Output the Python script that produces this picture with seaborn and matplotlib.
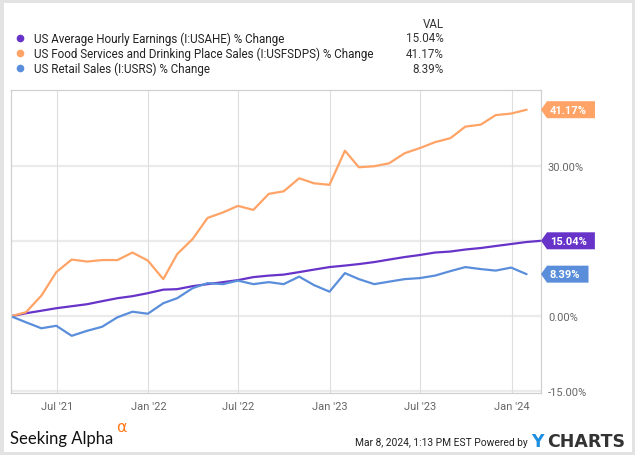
import matplotlib
matplotlib.use("Agg")
import pandas as pd
import matplotlib.pyplot as plt
import matplotlib.transforms as mtransforms
from matplotlib.patches import Polygon, Rectangle
from matplotlib.lines import Line2D
import seaborn as sns

# Monthly % change since Mar 2021
months = pd.date_range("2021-03-31", "2024-02-29", freq="ME")

earnings = [0.0, 0.6, 1.1, 1.6, 2.0, 2.4, 3.0, 3.6, 4.0, 4.6, 5.3, 5.4,
            6.0, 6.4, 6.8, 7.2, 7.8, 8.1, 8.3, 8.8, 9.3, 9.8, 10.1, 10.4,
            10.8, 11.3, 11.8, 12.2, 12.7, 12.9, 13.3, 13.6, 14.0, 14.4, 14.8, 15.04]
food = [0.0, 0.8, 4.1, 8.8, 11.3, 10.9, 11.2, 11.2, 12.7, 11.1, 7.4, 12.4,
        15.4, 19.6, 20.7, 22.0, 21.2, 24.4, 24.9, 27.5, 26.5, 26.2, 33.0, 29.7,
        29.9, 30.5, 32.5, 33.5, 34.7, 35.5, 37.8, 38.2, 40.1, 40.4, 41.17]
retail = [0.0, -1.2, -2.4, -1.9, -3.9, -2.9, -2.1, -0.2, 0.9, 0.5, 2.6, 3.6,
          5.6, 6.6, 6.4, 7.1, 6.4, 6.8, 6.4, 7.9, 6.2, 4.9, 8.6, 7.4,
          6.4, 6.9, 7.4, 7.6, 8.1, 9.0, 9.8, 9.4, 9.1, 9.7, 8.39]

names = ["US Average Hourly Earnings (I:USAHE) % Change",
         "US Food Services and Drinking Place Sales (I:USFSDPS) % Change",
         "US Retail Sales (I:USRS) % Change"]
colors = ["#6733c9", "#ffa366", "#5a8edb"]
values = [earnings, food, retail]

yticks = [-15, 0, 15, 30]
ylabels = ["-15.00%", "0.00%", "", "30.00%"]  # 15.00% sits under the purple tag
xticks = pd.to_datetime(["2021-07-01", "2022-01-01", "2022-07-01",
                         "2023-01-01", "2023-07-01", "2024-01-01"])
xlabels = ["Jul '21", "Jan '22", "Jul '22", "Jan '23", "Jul '23", "Jan '24"]

sns.set_style("white")
plt.rcParams["font.family"] = ["Roboto", "DejaVu Sans"]

fig = plt.figure(figsize=(6.35, 4.56), dpi=100)
ax = fig.add_axes([11 / 635, 1 - 394 / 456, 530 / 635, 303 / 456])

for name, vals, col in zip(names, values, colors):
    df = pd.DataFrame({"date": months[:len(vals)], "pct": vals})
    sns.lineplot(data=df, x="date", y="pct", color=col, linewidth=1.6, ax=ax)

ax.set_xlim(months[0], months[-1])
ax.set_ylim(-15.3, 45.1)
ax.set_xlabel("")
ax.set_ylabel("")

ax.set_xticks(xticks)
ax.set_xticklabels(xlabels)
ax.set_yticks(yticks)
ax.set_yticklabels(ylabels)
ax.yaxis.tick_right()
ax.tick_params(axis="both", length=0, labelsize=8, labelcolor="#666666")
ax.tick_params(axis="x", pad=6)
ax.tick_params(axis="y", pad=5)

ax.grid(False)
for t in yticks:
    ax.axhline(t, color="#ebebeb", linewidth=1.6, zorder=0)
for t in xticks:
    ax.axvline(t, color="#dedede", linewidth=0.8, zorder=0)
for s in ax.spines.values():
    s.set_color("#d0d0d0")
    s.set_linewidth(0.9)

# value tags on the right edge
trans = mtransforms.blended_transform_factory(ax.transAxes, ax.transData)
fig.canvas.draw()
for vals, col in zip(values, colors):
    last = vals[-1]
    off = mtransforms.ScaledTranslation(9 / 100, 0, fig.dpi_scale_trans)
    txt = ax.text(1, last, f"{last:.2f}%", transform=trans + off, ha="left",
                  va="center", color="white", fontsize=8, fontweight="bold",
                  zorder=6, clip_on=False)
    w = txt.get_window_extent(fig.canvas.get_renderer()).width / 100
    h = 8.5 / 100
    verts = [(0, 0), (0.06, h), (w + 0.17, h), (w + 0.17, -h), (0.06, -h)]
    anchor = mtransforms.ScaledTranslation(1, last, trans)
    ax.add_patch(Polygon(verts, closed=True, facecolor=col, edgecolor="none",
                         transform=fig.dpi_scale_trans + anchor, zorder=5,
                         clip_on=False))

# legend block at the top
fig.text(444 / 635, 1 - 25 / 456, "VAL", ha="right", va="center",
         fontsize=8.4, color="#333333")
for i, (name, vals, col) in enumerate(zip(names, values, colors)):
    y = 1 - (39 + i * 15.2) / 456
    fig.add_artist(Line2D([20 / 635], [y], marker="o", markersize=4.5,
                          color=col, transform=fig.transFigure))
    fig.text(34 / 635, y, name, ha="left", va="center", fontsize=8.4,
             color="#222222")
    fig.text(444 / 635, y, f"{vals[-1]:.2f}%", ha="right", va="center",
             fontsize=8.4, color="#333333")

# footer
fig.text(10 / 635, 1 - 439 / 456, "Seeking Alpha", ha="left", va="center",
         fontsize=12, family="Lato", color="#111111")
fig.text(116 / 635, 1 - 428 / 456, "\u03b1", ha="left", va="center",
         fontsize=11.5, color="#ff7a1a", family="DejaVu Sans")
fig.text(528 / 635, 1 - 443 / 456, "Mar 8, 2024, 1:13 PM EST Powered by",
         ha="right", va="center", fontsize=7.4, color="#222222")
fig.text(531 / 635, 1 - 442 / 456, "Y", ha="left", va="center",
         fontsize=12.5, fontweight="bold", color="#1e8fe0", family="DejaVu Sans")
fig.text(547 / 635, 1 - 442 / 456, "CHARTS", ha="left", va="center",
         fontsize=12.5, fontweight="bold", color="#333333", family="DejaVu Sans")

fig.add_artist(Rectangle((0, 0), 1, 1, transform=fig.transFigure, fill=False,
                         edgecolor="#e3e3e3", linewidth=5))

fig.savefig("out.png", dpi=100, facecolor="white")
